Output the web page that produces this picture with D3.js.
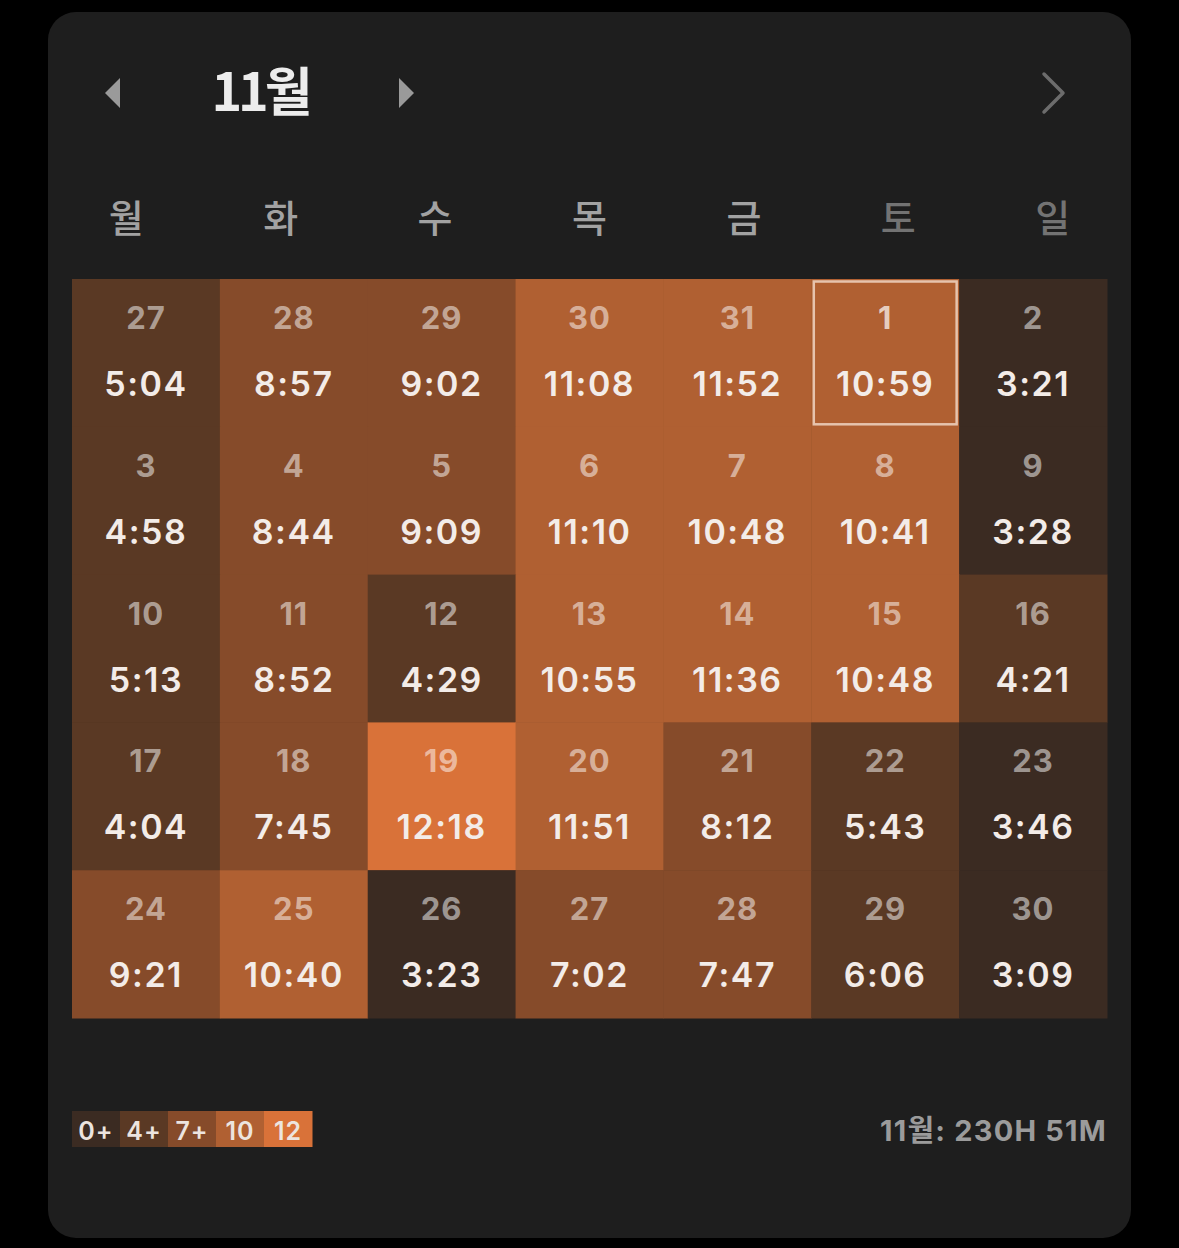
<!DOCTYPE html>
<html><head><meta charset="utf-8">
<script src="https://cdn.jsdelivr.net/npm/d3@7"></script>
<style>
html,body{margin:0;padding:0;background:#000;}
svg{display:block;}
</style></head>
<body>
<script>
const monthTitle = "11월";
const weekdays = ["월","화","수","목","금","토","일"];
const dayNumbers = [27,28,29,30,31,1,2, 3,4,5,6,7,8,9, 10,11,12,13,14,15,16, 17,18,19,20,21,22,23, 24,25,26,27,28,29,30];
const durations = ["5:04","8:57","9:02","11:08","11:52","10:59","3:21",
  "4:58","8:44","9:09","11:10","10:48","10:41","3:28",
  "5:13","8:52","4:29","10:55","11:36","10:48","4:21",
  "4:04","7:45","12:18","11:51","8:12","5:43","3:46",
  "9:21","10:40","3:23","7:02","7:47","6:06","3:09"];
const selectedIndex = 5;
const legendLabels = ["0+","4+","7+","10","12"];
const thresholds = [4,7,10,12];
const palette = ["#3b2b22","#5a3924","#864b2a","#b06032","#d97239"];
const totalLabel = "11월: 230H 51M";

const W = 1179, H = 1248;
const svg = d3.select("body").append("svg").attr("width", W).attr("height", H);
svg.append("rect").attr("width", W).attr("height", H).attr("fill", "#000");
svg.append("rect").attr("x", 48).attr("y", 12).attr("width", 1083).attr("height", 1226)
  .attr("rx", 28).attr("fill", "#1e1e1e");

const numFont = "Inter, 'Noto Sans CJK KR', sans-serif";
const krFont = "'Noto Sans CJK KR', sans-serif";

// header
svg.append("path").attr("d", "M120,78 L105,93 L120,108 Z").attr("fill", "#9a9a9a");
svg.append("path").attr("d", "M399,78 L414,93 L399,108 Z").attr("fill", "#9a9a9a");
svg.append("text").attr("x", 260).attr("y", 111).attr("text-anchor", "middle")
  .attr("font-family", krFont).attr("font-weight", 700).attr("font-size", 52)
  .attr("fill", "#ececec").attr("letter-spacing", -4).text(monthTitle);
svg.append("path").attr("d", "M1044,74 L1063,93 L1044,112").attr("fill", "none")
  .attr("stroke", "#6c6c6c").attr("stroke-width", 3.5).attr("stroke-linecap", "round").attr("stroke-linejoin", "round");

const x = d3.scaleBand().domain(d3.range(7)).range([72, 1107]);
const y = d3.scaleBand().domain(d3.range(5)).range([279, 1018]);
const xh = d3.scaleBand().domain(d3.range(7)).range([49, 1130]);
const color = d3.scaleThreshold().domain(thresholds).range(palette);
const hours = s => { const [h, m] = s.split(":").map(Number); return h + m / 60; };

svg.append("g").selectAll("text").data(weekdays).join("text")
  .attr("x", (d, i) => xh(i) + xh.bandwidth() / 2).attr("y", 232)
  .attr("text-anchor", "middle").attr("font-family", krFont).attr("font-weight", 500)
  .attr("font-size", 38).attr("fill", (d, i) => i >= 5 ? "#737373" : "#a2a2a2").text(d => d);

const cells = dayNumbers.map((d, i) => ({ day: d, t: durations[i], col: i % 7, row: Math.floor(i / 7), i }));
const g = svg.append("g");
g.selectAll("rect").data(cells).join("rect")
  .attr("x", d => x(d.col)).attr("y", d => y(d.row))
  .attr("width", x.bandwidth() + 0.5).attr("height", y.bandwidth() + 0.5)
  .attr("fill", d => color(hours(d.t)));

const sel = cells[selectedIndex];
g.append("rect").attr("x", x(sel.col) + 2.5).attr("y", y(sel.row) + 2.5)
  .attr("width", x.bandwidth() - 5).attr("height", y.bandwidth() - 5)
  .attr("fill", "none").attr("stroke", "#e6c3ad").attr("stroke-width", 2.5);

g.selectAll("text.day").data(cells).join("text").attr("class", "day")
  .attr("x", d => x(d.col) + x.bandwidth() / 2).attr("y", d => y(d.row) + 50)
  .attr("text-anchor", "middle").attr("font-family", numFont).attr("font-weight", 700)
  .attr("font-size", 31).attr("fill", "#fff").attr("letter-spacing", 1)
  .attr("fill-opacity", d => d.i === selectedIndex ? 0.7 : 0.52).text(d => d.day);

g.selectAll("text.time").data(cells).join("text").attr("class", "time")
  .attr("x", d => x(d.col) + x.bandwidth() / 2).attr("y", d => y(d.row) + 117)
  .attr("text-anchor", "middle").attr("font-family", numFont).attr("font-weight", 600)
  .attr("font-size", 34).attr("fill", "#f3ece8").attr("letter-spacing", 1.5).text(d => d.t);

// legend
const lx = d3.scaleBand().domain(d3.range(5)).range([72, 312]);
const lg = svg.append("g");
lg.selectAll("rect").data(legendLabels).join("rect")
  .attr("x", (d, i) => lx(i)).attr("y", 1111).attr("width", lx.bandwidth() + 0.5).attr("height", 36)
  .attr("fill", (d, i) => palette[i]);
lg.selectAll("text").data(legendLabels).join("text")
  .attr("x", (d, i) => lx(i) + lx.bandwidth() / 2).attr("y", 1140)
  .attr("text-anchor", "middle").attr("font-family", numFont).attr("font-weight", 600)
  .attr("font-size", 25).attr("fill", "#ece4df").attr("letter-spacing", 1).text(d => d);

svg.append("text").attr("x", 1107).attr("y", 1141).attr("text-anchor", "end")
  .attr("font-family", numFont).attr("font-weight", 700).attr("font-size", 29)
  .attr("letter-spacing", 1.2)
  .attr("fill", "#9b9b9b").text(totalLabel);
</script>
</body></html>
